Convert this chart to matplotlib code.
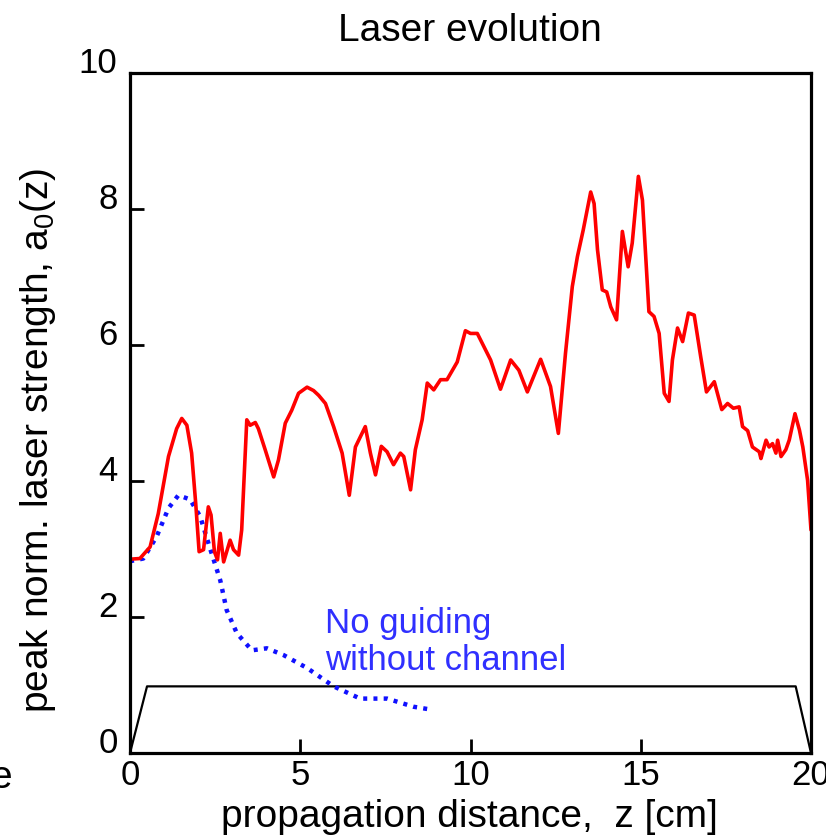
import matplotlib
matplotlib.use('Agg')
import matplotlib.pyplot as plt

plt.rcParams['font.family'] = ['Liberation Sans', 'DejaVu Sans']
plt.rcParams['mathtext.default'] = 'regular'

# red curve: with plasma channel
z_red = [0.0, 0.29, 0.59, 0.83, 1.13, 1.37, 1.52, 1.67, 1.81, 1.93, 2.03, 2.16, 2.30, 2.38, 2.48,
         2.57, 2.65, 2.75, 2.94, 3.04, 3.19, 3.28, 3.43, 3.53, 3.68, 3.77, 3.97, 4.22, 4.36, 4.56,
         4.75, 4.95, 5.20, 5.39, 5.54, 5.74, 5.98, 6.23, 6.44, 6.62, 6.91, 7.06, 7.21, 7.38, 7.55,
         7.74, 7.94, 8.04, 8.24, 8.38, 8.58, 8.73, 8.92, 9.12, 9.31, 9.61, 9.85, 10.0, 10.2, 10.59,
         10.88, 11.18, 11.42, 11.67, 12.06, 12.35, 12.58, 12.79, 12.99, 13.14, 13.31, 13.53, 13.63,
         13.73, 13.87, 14.0, 14.12, 14.29, 14.46, 14.63, 14.75, 14.93, 15.05, 15.24, 15.39, 15.54,
         15.69, 15.83, 15.93, 16.08, 16.23, 16.40, 16.57, 16.76, 16.93, 17.16, 17.38, 17.55, 17.72,
         17.89, 17.99, 18.14, 18.28, 18.48, 18.53, 18.68, 18.77, 18.87, 18.97, 19.02, 19.12, 19.26,
         19.36, 19.53, 19.66, 19.76, 19.90, 20.0]
a_red = [2.85, 2.86, 3.03, 3.52, 4.36, 4.77, 4.92, 4.82, 4.41, 3.67, 2.96, 2.99, 3.62, 3.50, 2.96,
         2.84, 3.23, 2.81, 3.13, 2.99, 2.91, 3.28, 4.90, 4.82, 4.86, 4.77, 4.46, 4.06, 4.31, 4.85,
         5.04, 5.29, 5.38, 5.33, 5.26, 5.14, 4.80, 4.41, 3.79, 4.50, 4.80, 4.41, 4.09, 4.51, 4.43,
         4.24, 4.41, 4.36, 3.87, 4.46, 4.90, 5.44, 5.34, 5.49, 5.49, 5.75, 6.21, 6.17, 6.17, 5.78,
         5.35, 5.78, 5.63, 5.31, 5.79, 5.39, 4.70, 5.88, 6.86, 7.30, 7.69, 8.25, 8.08,
         7.40, 6.81, 6.78, 6.56, 6.37, 7.67, 7.15, 7.50, 8.48, 8.13, 6.49, 6.42, 6.17,
         5.29, 5.17, 5.78, 6.25, 6.05, 6.47, 6.44, 5.83, 5.31, 5.46, 5.05, 5.14, 5.07,
         5.09, 4.80, 4.74, 4.50, 4.43, 4.33, 4.60, 4.50, 4.55, 4.41, 4.60, 4.36, 4.46,
         4.60, 4.99, 4.75, 4.50, 4.01, 3.28]

# blue dotted: no channel
z_blue = [0.0, 0.39, 0.78, 1.13, 1.42, 1.76, 2.06, 2.35, 2.65, 2.84, 3.14, 3.58, 4.02, 4.51,
          5.20, 5.98, 6.76, 7.55, 8.33, 8.82]
a_blue = [2.82, 2.86, 3.18, 3.60, 3.79, 3.73, 3.48, 3.01, 2.54, 2.10, 1.76, 1.51, 1.54, 1.44,
          1.25, 0.98, 0.80, 0.80, 0.68, 0.64]

# channel profile
z_chan = [0.0, 0.5, 19.55, 20.0]
n_chan = [0.0, 0.98, 0.98, 0.0]

W, H = 826, 838
fig = plt.figure(figsize=(W / 100, H / 100), dpi=100)
ax = fig.add_axes([130 / W, 1 - 753 / H, 681 / W, 680 / H])

ax.plot(z_chan, n_chan, color='black', lw=1.6)
ax.plot(z_blue, a_blue, color='#1010ff', lw=3.2, linestyle=(0, (0.9, 1.4)))
ax.plot(z_red, a_red, color='#ff0000', lw=2.6, solid_joinstyle='round', solid_capstyle='round')

ax.text(5.74, 1.76, 'No guiding', color='#3030ff', fontsize=25, va='baseline')
ax.text(5.74, 1.22, 'without channel', color='#3030ff', fontsize=25, va='baseline')

ax.set_xlim(0, 20)
ax.set_ylim(0, 10)
ax.set_xticks([0, 5, 10, 15, 20])
ax.set_yticks([0, 2, 4, 6, 8, 10])
ax.tick_params(direction='in', length=10, width=2, labelsize=25)
ax.tick_params(axis='x', pad=4)
ax.tick_params(axis='y', pad=9)
ax.tick_params(top=False, right=False)
for lab in ax.get_yticklabels():
    lab.set_va('baseline')
for s in ax.spines.values():
    s.set_linewidth(2.3)

fig.text(470 / W, 1 - 41 / H, 'Laser evolution', fontsize=28, ha='center', va='baseline')
fig.text(469 / W, 1 - 827 / H, 'propagation distance,  z [cm]', fontsize=28, ha='center', va='baseline')
fig.text(38 / W, 1 - 440 / H, 'peak norm. laser strength, a$_0$(z)', fontsize=28,
         rotation=90, ha='center', va='center')
fig.text(12 / W, 1 - 788 / H, 'e', fontsize=28, ha='right', va='baseline')

fig.savefig('out.png', dpi=100)
